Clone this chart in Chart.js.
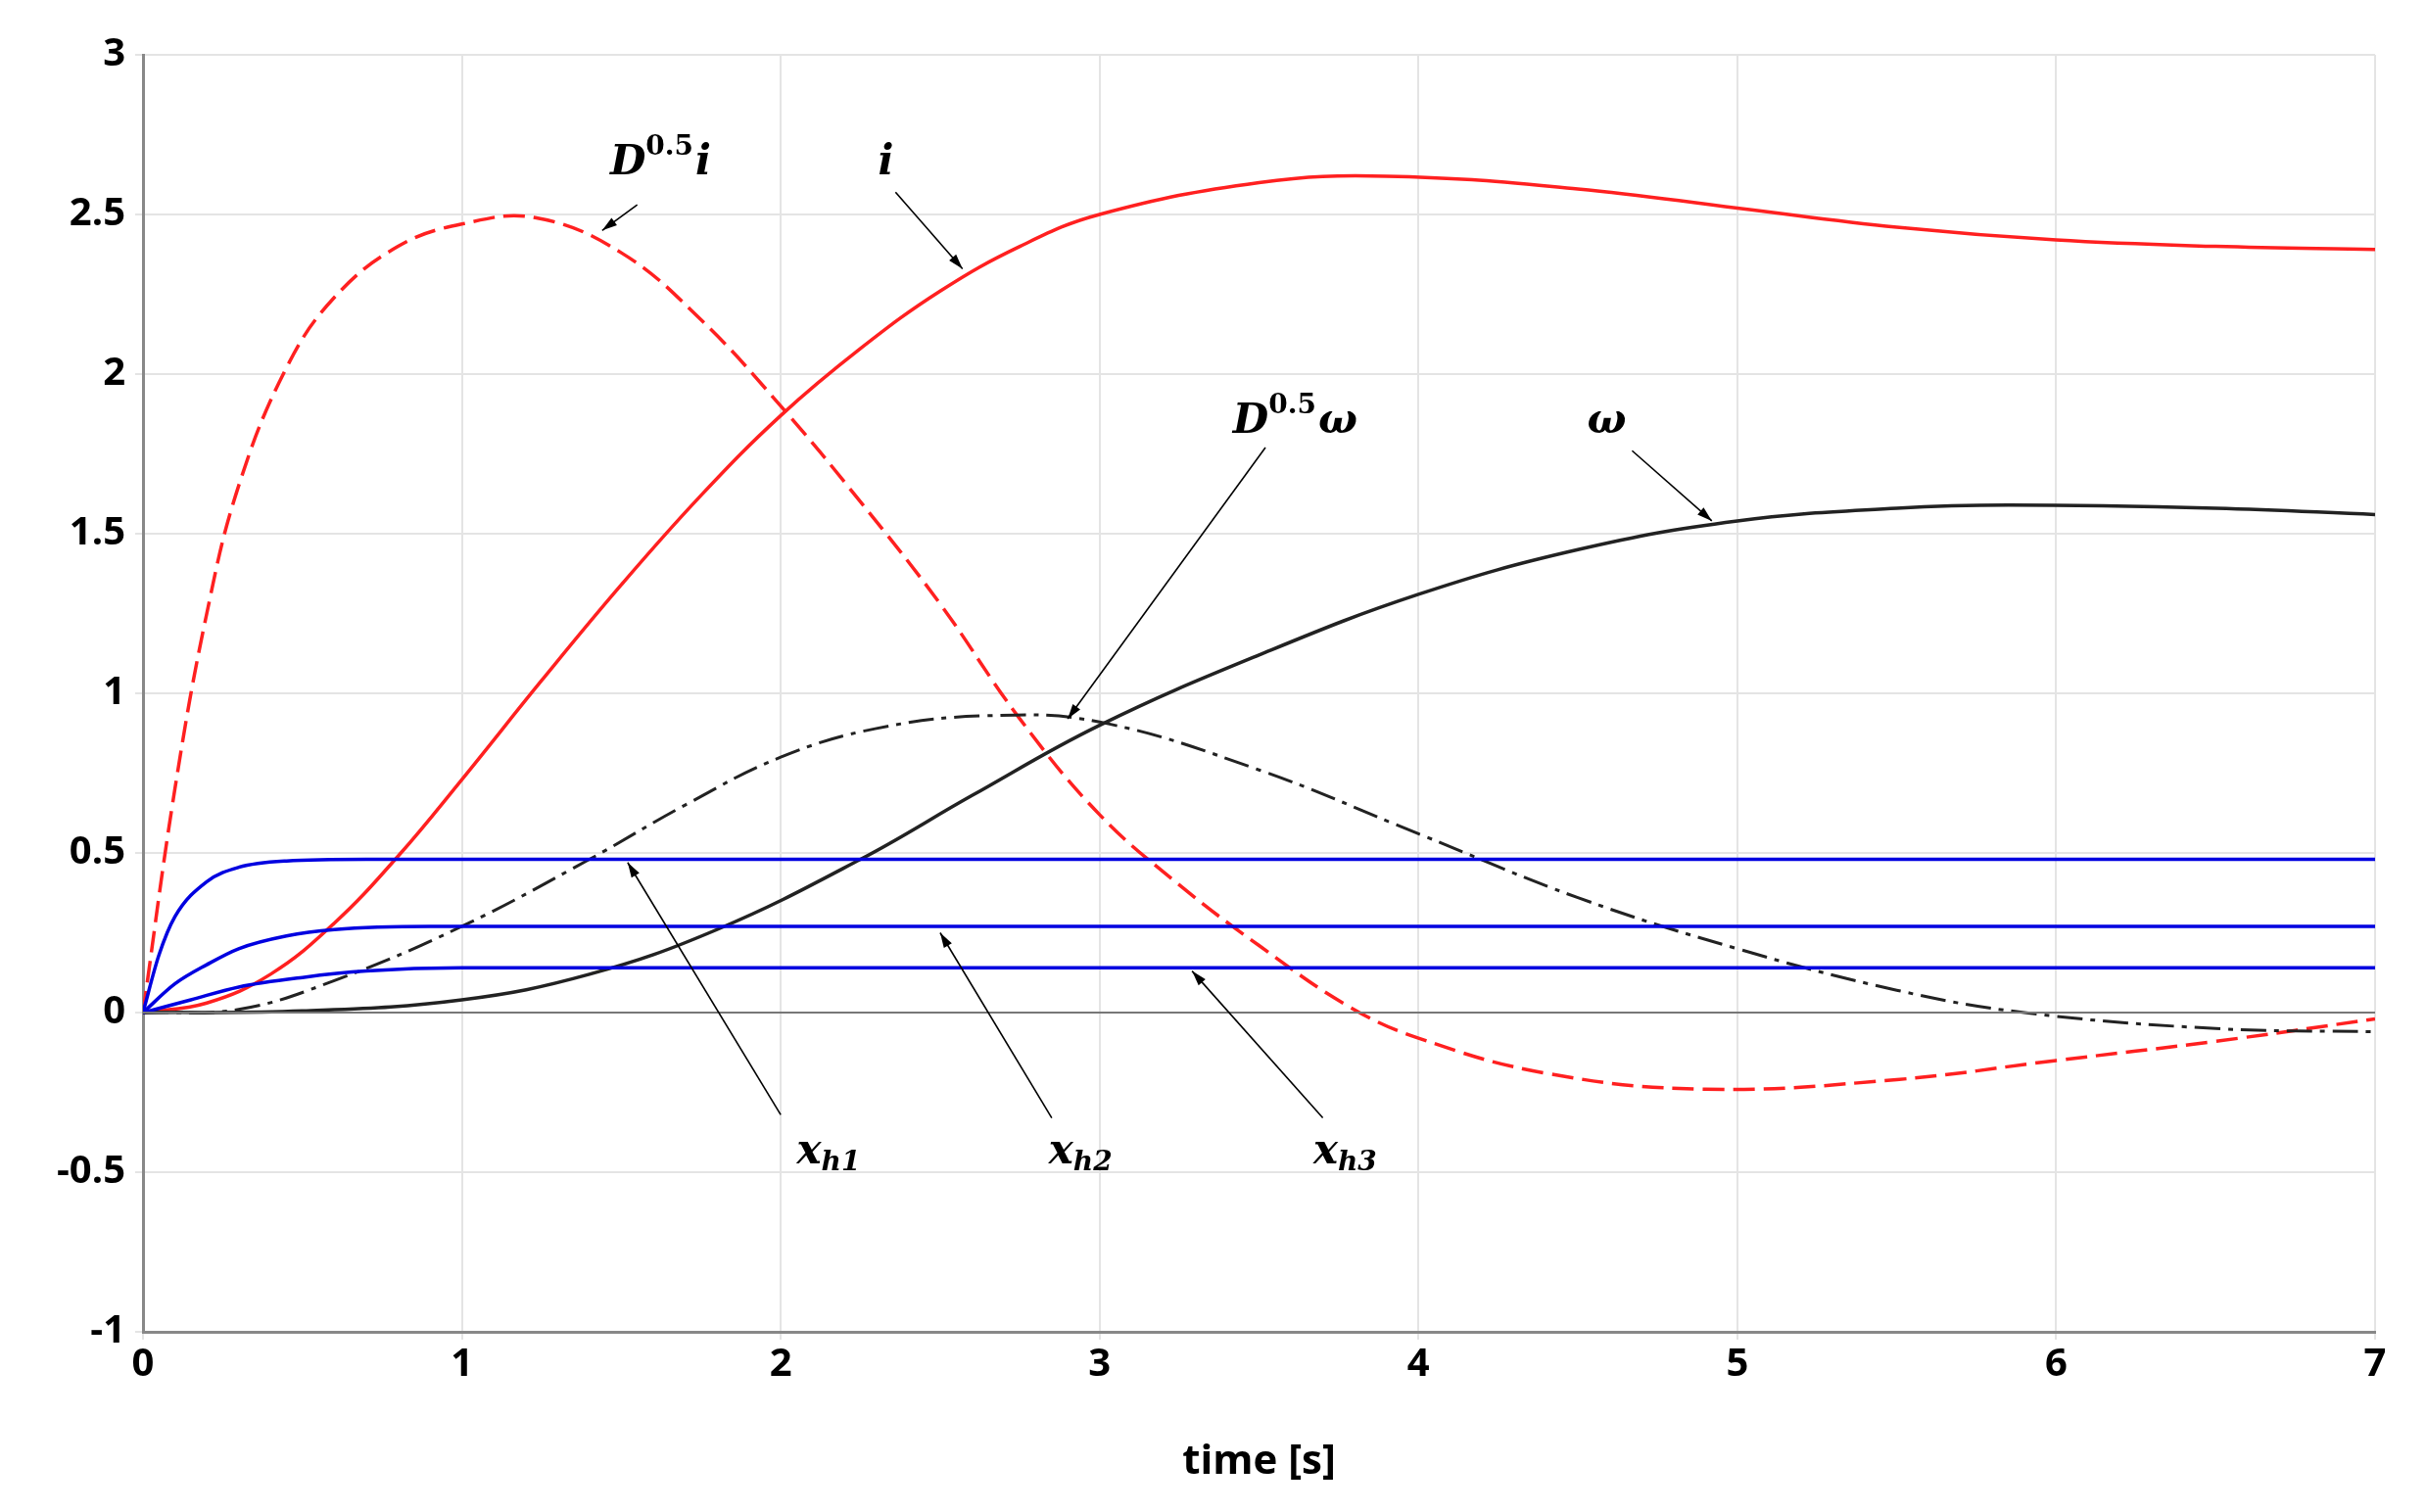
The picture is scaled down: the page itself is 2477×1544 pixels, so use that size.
<!DOCTYPE html>
<html>
<head>
<meta charset="utf-8">
<script src="https://cdn.jsdelivr.net/npm/chart.js@4/dist/chart.umd.min.js"></script>
<style>
  html, body { margin: 0; padding: 0; background: #fff; }
  #wrap { width: 2477px; height: 1544px; }
</style>
</head>
<body>
<div id="wrap"><canvas id="c"></canvas></div>
<script>
// values
const dHalfI = [[0,0],[0.1,0.7],[0.2,1.25],[0.3,1.65],[0.45,2.02],[0.6,2.24],[0.8,2.4],[1.0,2.47],[1.23,2.49],[1.5,2.38],[1.75,2.17],[2.0,1.9],[2.25,1.6],[2.5,1.28],[2.75,0.92],[3.0,0.62],[3.25,0.4],[3.5,0.21],[3.78,0.02],[4.0,-0.08],[4.4,-0.19],[4.9,-0.24],[5.5,-0.21],[6.0,-0.15],[6.5,-0.09],[7.0,-0.02]];
const currentI = [[0,0],[0.2,0.03],[0.4,0.12],[0.6,0.28],[0.8,0.49],[1.0,0.73],[1.25,1.04],[1.5,1.34],[1.75,1.62],[2.0,1.87],[2.25,2.08],[2.5,2.26],[2.75,2.4],[3.0,2.5],[3.5,2.6],[3.9,2.62],[4.5,2.58],[5.0,2.52],[5.5,2.46],[6.0,2.42],[6.5,2.4],[7.0,2.39]];
const omega = [[0,0],[0.5,0.005],[1.0,0.04],[1.4,0.12],[1.8,0.26],[2.25,0.48],[2.6,0.68],[3.0,0.9],[3.5,1.12],[4.0,1.31],[4.5,1.45],[5.0,1.54],[5.5,1.58],[5.85,1.59],[6.5,1.58],[7.0,1.56]];
const dHalfOmega = [[0,0],[0.3,0.01],[0.6,0.1],[1.0,0.27],[1.4,0.48],[1.7,0.65],[2.0,0.8],[2.3,0.89],[2.65,0.93],[3.0,0.91],[3.5,0.76],[4.0,0.56],[4.5,0.36],[5.0,0.2],[5.5,0.07],[5.9,0],[6.5,-0.05],[7.0,-0.06]];
const xh1 = [[0,0],[0.05,0.18],[0.1,0.3],[0.2,0.41],[0.3,0.455],[0.45,0.475],[0.7,0.48],[7,0.48]];
const xh2 = [[0,0],[0.1,0.09],[0.2,0.15],[0.3,0.2],[0.45,0.24],[0.6,0.26],[0.9,0.27],[7,0.27]];
const xh3 = [[0,0],[0.15,0.04],[0.3,0.08],[0.5,0.11],[0.7,0.13],[1.0,0.14],[7,0.14]];
const zeroLine = [[0,0],[7,0]];

// label text, label position, arrow start, arrow tip (data coords)
const labels = [
  { main: "D", sup: "0.5", tail: "i", at: [1.62, 2.66], from: [1.55, 2.53], to: [1.44, 2.45] },
  { main: "i", sup: "", tail: "", at: [2.33, 2.66], from: [2.36, 2.57], to: [2.57, 2.33] },
  { main: "D", sup: "0.5", tail: "ω", at: [3.61, 1.85], from: [3.52, 1.77], to: [2.9, 0.92] },
  { main: "ω", sup: "", tail: "", at: [4.59, 1.85], from: [4.67, 1.76], to: [4.92, 1.54] },
  { main: "x", sub: "h1", at: [2.15, -0.44], from: [2.0, -0.32], to: [1.52, 0.47] },
  { main: "x", sub: "h2", at: [2.94, -0.44], from: [2.85, -0.33], to: [2.5, 0.25] },
  { main: "x", sub: "h3", at: [3.77, -0.44], from: [3.7, -0.33], to: [3.29, 0.13] },
];

const xTicks = [0, 1, 2, 3, 4, 5, 6, 7];
const yTicks = [-1, -0.5, 0, 0.5, 1, 1.5, 2, 2.5, 3];

function pts(arr) { return arr.map(([x, y]) => ({ x, y })); }

function line(data, color, width, dash, mono) {
  const ds = { data: pts(data), borderColor: color, borderWidth: width, borderDash: dash || [],
    pointRadius: 0, fill: false, tension: 0.4 };
  if (mono) ds.cubicInterpolationMode = "monotone";
  return ds;
}

const annotationPlugin = {
  id: "labelsArrows",
  afterDatasetsDraw(chart) {
    const { ctx, scales: { x, y } } = chart;
    ctx.save();
    ctx.fillStyle = "#000";
    ctx.strokeStyle = "#000";
    ctx.lineWidth = 1.6;
    const serif = "'DejaVu Serif', 'Liberation Serif', serif";
    for (const l of labels) {
      const fx = x.getPixelForValue(l.from[0]), fy = y.getPixelForValue(l.from[1]);
      const tx = x.getPixelForValue(l.to[0]), ty = y.getPixelForValue(l.to[1]);
      ctx.beginPath(); ctx.moveTo(fx, fy); ctx.lineTo(tx, ty); ctx.stroke();
      const a = Math.atan2(ty - fy, tx - fx), s = 16;
      ctx.beginPath();
      ctx.moveTo(tx, ty);
      ctx.lineTo(tx - s * Math.cos(a - 0.3), ty - s * Math.sin(a - 0.3));
      ctx.lineTo(tx - s * Math.cos(a + 0.3), ty - s * Math.sin(a + 0.3));
      ctx.closePath(); ctx.fill();

      // text centred at label position
      const big = "italic bold 42px " + serif, small = "bold 28px " + serif, smallIt = "italic bold 28px " + serif;
      ctx.font = big; const w1 = ctx.measureText(l.main).width;
      let w2 = 0, w3 = 0;
      if (l.sup) { ctx.font = small; w2 = ctx.measureText(l.sup).width; }
      if (l.sub) { ctx.font = smallIt; w2 = ctx.measureText(l.sub).width; }
      if (l.tail) { ctx.font = big; w3 = ctx.measureText(l.tail).width; }
      let px = x.getPixelForValue(l.at[0]) - (w1 + w2 + w3) / 2;
      const py = y.getPixelForValue(l.at[1]);
      ctx.textBaseline = "middle"; ctx.textAlign = "left";
      ctx.font = big; ctx.fillText(l.main, px, py); px += w1;
      if (l.sup) { ctx.font = small; ctx.fillText(l.sup, px, py - 16); px += w2; }
      if (l.sub) { ctx.font = smallIt; ctx.fillText(l.sub, px, py + 10); px += w2; }
      if (l.tail) { ctx.font = big; ctx.fillText(l.tail, px + 2, py); }
    }
    ctx.restore();
  }
};

const tickFont = { family: "'Open Sans', sans-serif", size: 40, weight: "bold" };

new Chart(document.getElementById("c"), {
  type: "line",
  data: {
    datasets: [
      line(zeroLine, "#777", 2),
      line(xh1, "#0000e0", 3.5, null, true),
      line(xh2, "#0000e0", 3.5, null, true),
      line(xh3, "#0000e0", 3.5, null, true),
      line(omega, "#222", 3.5),
      line(dHalfOmega, "#222", 3, [26, 8, 5, 8]),
      line(currentI, "#ff2020", 3.5),
      line(dHalfI, "#ff2020", 3.5, [22, 9]),
    ],
  },
  options: {
    responsive: true,
    maintainAspectRatio: false,
    animation: false,
    layout: { padding: { top: 56, right: 52, left: 0, bottom: 26 } },
    plugins: { legend: { display: false }, tooltip: { enabled: false } },
    scales: {
      x: {
        type: "linear", min: 0, max: 7,
        afterBuildTicks: (s) => { s.ticks = xTicks.map((v) => ({ value: v })); },
        afterFit: (s) => { s.height = 158; },
        ticks: { color: "#000", font: tickFont, padding: 2 },
        grid: { color: "#e4e4e4", lineWidth: 2, tickLength: 8 },
        border: { color: "#888", width: 3 },
        title: { display: true, text: "time [s]", color: "#000", font: { family: "'Open Sans', sans-serif", size: 42, weight: "bold" }, padding: 0 },
      },
      y: {
        type: "linear", min: -1, max: 3,
        afterBuildTicks: (s) => { s.ticks = yTicks.map((v) => ({ value: v })); },
        afterFit: (s) => { s.width = 146; },
        ticks: { color: "#000", font: tickFont, padding: 10, callback: (v) => String(v) },
        grid: { color: "#e4e4e4", lineWidth: 2, tickLength: 8 },
        border: { color: "#888", width: 3 },
      },
    },
  },
  plugins: [annotationPlugin],
});
</script>
</body>
</html>
